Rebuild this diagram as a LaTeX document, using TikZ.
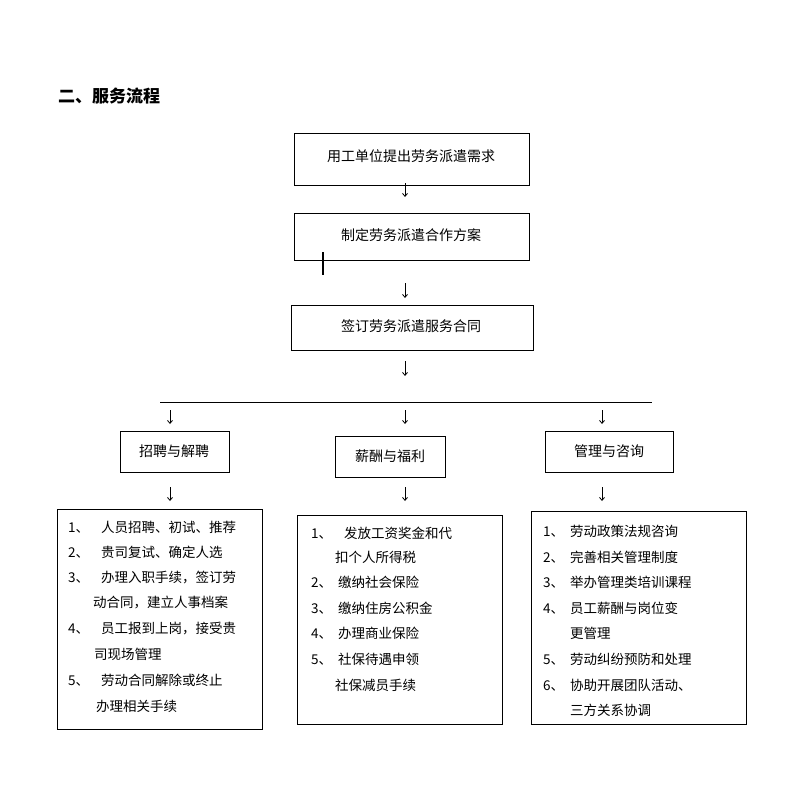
\documentclass[tikz,border=0pt]{standalone}
\usepackage{fontspec}
\setmainfont{Noto Sans CJK SC}
\usetikzlibrary{arrows.meta}
\begin{document}
\begin{tikzpicture}[x=1pt,y=-1pt,
  box/.style={draw,line width=1pt,inner sep=0pt},
  txt/.style={font=\fontsize{14}{16}\selectfont,inner sep=0pt},
  li/.style={font=\fontsize{13.5}{16}\selectfont,inner sep=0pt,anchor=west},
  arr/.style={-{Straight Barb[length=3pt,width=5pt]},line width=0.8pt}]
\useasboundingbox (0,0) rectangle (800,800);
\node[anchor=west,inner sep=0pt,font=\fontsize{17}{20}\selectfont\bfseries] (title) at (58,96) {二、服务流程};
\draw[box] (294,133) rectangle (529,185); \node[txt] (b1) at (411,156) {用工单位提出劳务派遣需求};
\draw[box] (294,213) rectangle (529,260); \node[txt] (b2) at (411,235) {制定劳务派遣合作方案};
\draw[line width=1.2pt] (323,252) -- (323,275);
\draw[box] (291,305) rectangle (533,350); \node[txt] (b3) at (411,326) {签订劳务派遣服务合同};
\draw[line width=1pt] (160,402) -- (652,402);
\draw[box] (120,431) rectangle (229,472); \node[txt] (b4) at (174,451) {招聘与解聘};
\draw[box] (335,436) rectangle (445,477); \node[txt] (b5) at (390,456) {薪酬与福利};
\draw[box] (545,431) rectangle (673,472); \node[txt] (b6) at (609,451) {管理与咨询};
\draw[box] (57,509) rectangle (262,729);
\draw[box] (297,515) rectangle (502,724);
\draw[box] (531,511) rectangle (746,724);
\foreach \x/\ya/\yb/\n in {405/183/197/a1,405/283/298/a2,405/361/376/a3,170/410/424/a4,405/410/424/a5,602/410/424/a6,170/487/501/a7,405/487/501/a8,602/487/501/a9}{
  \coordinate (\n s) at (\x,\ya); \coordinate (\n e) at (\x,\yb);
  \draw[arr] (\n s) -- (\n e);}
% list 1
\node[li] (l11) at (68,527) {1、\hspace{12pt}人员招聘、初试、推荐};
\node[li] (l12) at (68,552) {2、\hspace{12pt}贵司复试、确定人选};
\node[li] (l13) at (68,578) {3、\hspace{12pt}办理入职手续，签订劳};
\node[li] (l14) at (93,603) {动合同，建立人事档案};
\node[li] (l15) at (68,629) {4、\hspace{12pt}员工报到上岗，接受贵};
\node[li] (l16) at (94,654) {司现场管理};
\node[li] (l17) at (68,680) {5、\hspace{12pt}劳动合同解除或终止};
\node[li] (l18) at (96,706) {办理相关手续};
% list 2
\node[li] (l21) at (311,533) {1、\hspace{12pt}发放工资奖金和代};
\node[li] (l22) at (335,557) {扣个人所得税};
\node[li] (l23) at (311,582) {2、\hspace{6pt}缴纳社会保险};
\node[li] (l24) at (311,608) {3、\hspace{6pt}缴纳住房公积金};
\node[li] (l25) at (311,633) {4、\hspace{6pt}办理商业保险};
\node[li] (l26) at (311,659) {5、\hspace{6pt}社保待遇申领};
\node[li] (l27) at (335,685) {社保减员手续};
% list 3
\node[li] (l31) at (543,531) {1、\hspace{6pt}劳动政策法规咨询};
\node[li] (l32) at (543,557) {2、\hspace{6pt}完善相关管理制度};
\node[li] (l33) at (543,582) {3、\hspace{6pt}举办管理类培训课程};
\node[li] (l34) at (543,608) {4、\hspace{6pt}员工薪酬与岗位变};
\node[li] (l35) at (570,633) {更管理};
\node[li] (l36) at (543,659) {5、\hspace{6pt}劳动纠纷预防和处理};
\node[li] (l37) at (543,685) {6、\hspace{6pt}协助开展团队活动、};
\node[li] (l38) at (570,710) {三方关系协调};
\end{tikzpicture}
\end{document}
